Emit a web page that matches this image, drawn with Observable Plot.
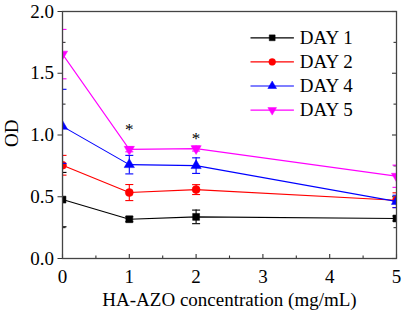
<!DOCTYPE html>
<html><head><meta charset="utf-8">
<script src="https://cdn.jsdelivr.net/npm/d3@7"></script>
<script src="https://cdn.jsdelivr.net/npm/@observablehq/plot@0.6"></script>
<style>
body{margin:0;background:#fff}
#chart svg, #chart svg text{font-family:"Liberation Serif","Times New Roman",serif !important;}
</style>
</head><body><div id="chart"></div>
<script>
// ---- data ----
const concentrations = [0, 1, 2, 5];
const seriesNames = ["DAY 1", "DAY 2", "DAY 4", "DAY 5"];
const day1 = [0.477, 0.318, 0.337, 0.324];
const day1Err = [0.22, 0.02, 0.055, 0.02];
const day2 = [0.755, 0.534, 0.558, 0.472];
const day2Err = [0.08, 0.065, 0.04, 0.06];
const day4 = [1.07, 0.76, 0.752, 0.462];
const day4Err = [0.30, 0.075, 0.063, 0.05];
const day5 = [1.655, 0.884, 0.89, 0.666];
const day5Err = [0.20, 0.02, 0.02, 0.09];
const starX = [1, 2];
const starY = [1.08, 1.0];
const xTicks = [0, 1, 2, 3, 4, 5];
const xMinorTicks = [0.5, 1.5, 2.5, 3.5, 4.5];
const yTicks = [0, 0.5, 1.0, 1.5, 2.0];
const yMinorTicks = [0.25, 0.75, 1.25, 1.75];

// ---- styles ----
const FONT = '"Liberation Serif", "Times New Roman", serif';
const colors = ["#000000", "#ff0000", "#0000ff", "#ff00ff"];
const values = [day1, day2, day4, day5];
const errors = [day1Err, day2Err, day4Err, day5Err];

function segSymbol(x0, y0, x1, y1) {
  return {draw(ctx) { ctx.moveTo(x0, y0); ctx.lineTo(x1, y1); }};
}
const triangleDown = {draw(ctx, size) {
  const s = Math.sqrt(size * 4 / Math.sqrt(3)), h = s * Math.sqrt(3) / 2;
  ctx.moveTo(0, 2 * h / 3); ctx.lineTo(-s / 2, -h / 3); ctx.lineTo(s / 2, -h / 3); ctx.closePath();
}};
const symbols = ["square", "circle", "triangle", triangleDown];
const radii = [3.9, 4, 3.8, 3.8];
const cap = segSymbol(-4, 0, 4, 0);

const rows = seriesNames.flatMap((name, i) =>
  concentrations.map((c, j) => ({series: name, i, x: c, y: values[i][j], e: errors[i][j]})));

const marks = [];
// inward ticks
marks.push(Plot.dot(xTicks, {x: d => d, y: 0, symbol: segSymbol(0, 0, 0, -4.5), stroke: "#333", strokeWidth: 1.1}));
marks.push(Plot.dot(xMinorTicks, {x: d => d, y: 0, symbol: segSymbol(0, 0, 0, -3), stroke: "#333", strokeWidth: 1.1}));
marks.push(Plot.dot(yMinorTicks, {x: 0, y: d => d, symbol: segSymbol(0, 0, 3, 0), stroke: "#333", strokeWidth: 1.1}));
marks.push(Plot.dot(yTicks, {x: 5, y: d => d, symbol: segSymbol(0, 0, -4.5, 0), stroke: "#333", strokeWidth: 1.1}));
marks.push(Plot.dot(yMinorTicks, {x: 5, y: d => d, symbol: segSymbol(0, 0, -3, 0), stroke: "#333", strokeWidth: 1.1}));

seriesNames.forEach((name, i) => {
  const data = rows.filter(d => d.i === i);
  const c = colors[i];
  marks.push(Plot.line(data, {x: "x", y: "y", stroke: c, strokeWidth: 1.1, clip: true}));
  marks.push(Plot.ruleX(data, {x: "x", y1: d => d.y - d.e, y2: d => d.y + d.e, stroke: c, strokeWidth: 1.1, clip: true}));
  marks.push(Plot.dot(data, {x: "x", y: d => d.y + d.e, symbol: cap, stroke: c, strokeWidth: 1.1, clip: true}));
  marks.push(Plot.dot(data, {x: "x", y: d => d.y - d.e, symbol: cap, stroke: c, strokeWidth: 1.1, clip: true}));
  marks.push(Plot.dot(data, {x: "x", y: "y", symbol: symbols[i], r: radii[i], fill: c, stroke: c, strokeWidth: 0.5, clip: true}));
  // legend
  const dy = 26.3 + i * 24.1;
  marks.push(Plot.dot([name], {frameAnchor: "top-right", dx: -124.3, dy, symbol: segSymbol(-21.7, 0, 21.7, 0), stroke: c, strokeWidth: 1.2}));
  marks.push(Plot.dot([name], {frameAnchor: "top-right", dx: -124.3, dy, symbol: symbols[i], r: radii[i] * 0.85, fill: c, stroke: c, strokeWidth: 0.5}));
  marks.push(Plot.text([name], {text: d => d, frameAnchor: "top-right", dx: -96.7, dy, textAnchor: "start", lineAnchor: "middle", fontSize: 19, fontFamily: FONT, fill: "#000"}));
});

marks.push(Plot.text(starX.map((x, k) => ({x, y: starY[k]})), {x: "x", y: "y", text: () => "*", fontSize: 17, fontFamily: FONT, lineAnchor: "middle", dy: 4, fill: "#000"}));

marks.push(Plot.frame({stroke: "#444", strokeWidth: 1.3}));
marks.push(Plot.axisY({ticks: yTicks, tickFormat: d3.format(".1f"), tickSize: 4.5, tickPadding: 4, label: null, fontSize: 19, fontFamily: FONT, stroke: "#333"}));
marks.push(Plot.axisX({ticks: xTicks, tickFormat: d => String(d), tickSize: 0, tickPadding: 11, label: null, fontSize: 19, fontFamily: FONT}));
marks.push(Plot.text(["HA-AZO concentration (mg/mL)"], {text: d => d, frameAnchor: "bottom", dy: 33.5, lineAnchor: "top", fontSize: 19, fontFamily: FONT, fill: "#000"}));
marks.push(Plot.text(["OD"], {text: d => d, frameAnchor: "left", dx: -45, dy: 12, rotate: -90, lineAnchor: "bottom", fontSize: 19, fontFamily: FONT, fill: "#000"}));

const chart = Plot.plot({
  width: 403, height: 312,
  marginLeft: 62, marginRight: 7, marginTop: 11, marginBottom: 54,
  x: {domain: [0, 5]},
  y: {domain: [0, 2]},
  style: {fontFamily: FONT, fontSize: "19px", color: "#000", background: "#fff"},
  marks
});
document.getElementById("chart").appendChild(chart);
</script>
</body></html>
